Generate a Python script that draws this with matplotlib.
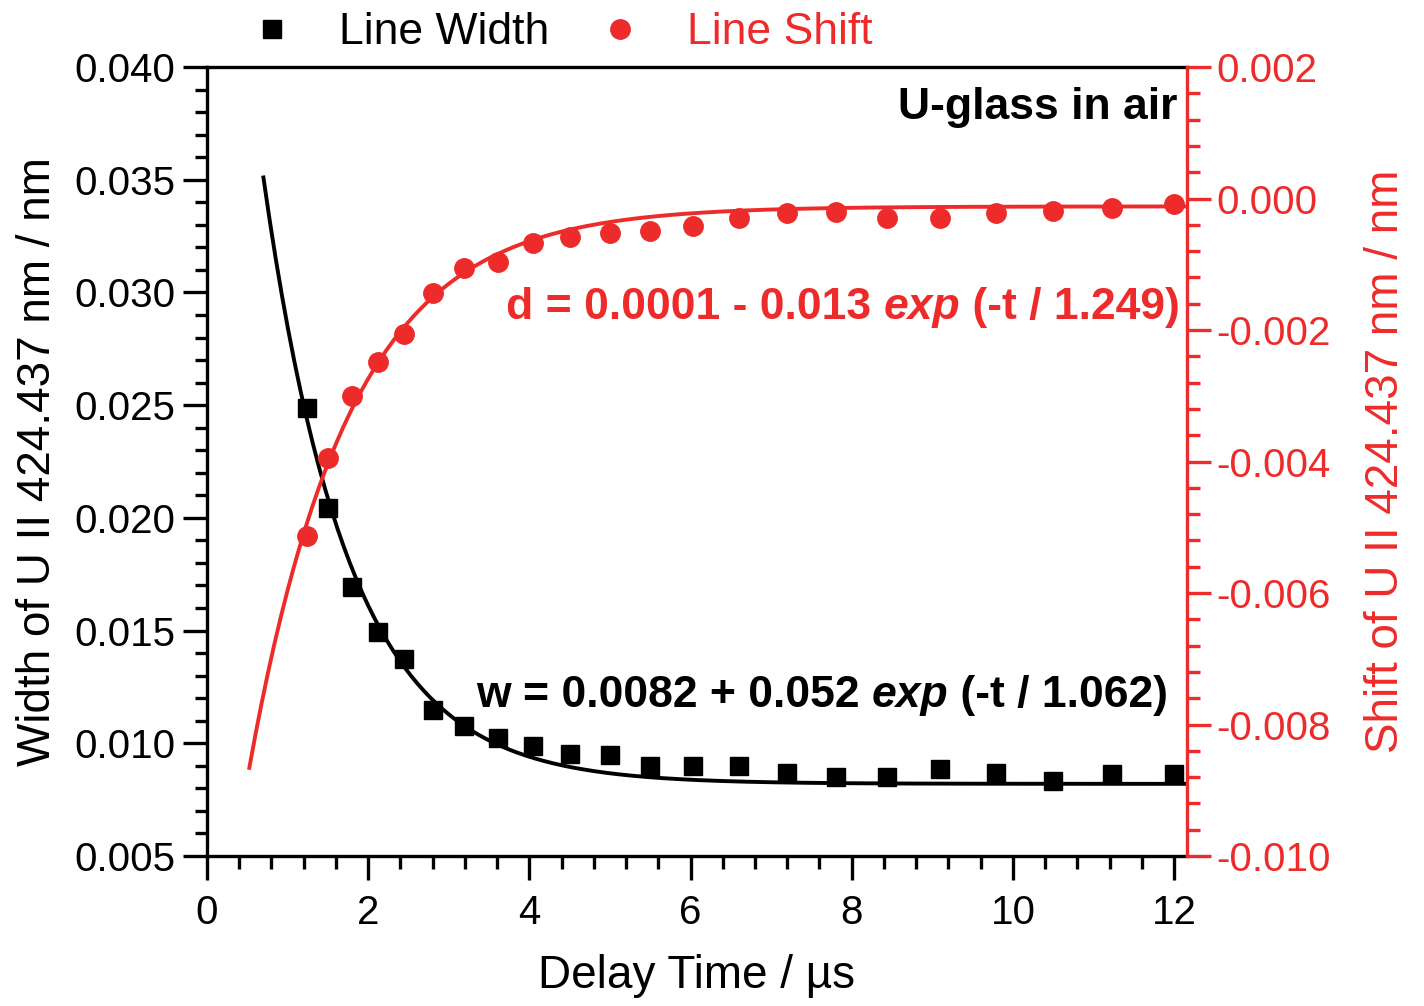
import matplotlib
matplotlib.use('Agg')
import matplotlib.pyplot as plt
import numpy as np
from matplotlib.lines import Line2D
from matplotlib.ticker import MultipleLocator, FuncFormatter
from matplotlib.offsetbox import TextArea, HPacker, AnchoredOffsetbox

plt.rcParams['font.family'] = ['Liberation Sans', 'DejaVu Sans']

# ---- data ----
delay_time = [1.24, 1.50, 1.80, 2.12, 2.44, 2.81, 3.19, 3.61, 4.05, 4.50, 5.00,
              5.50, 6.03, 6.60, 7.20, 7.80, 8.44, 9.09, 9.79, 10.50, 11.23, 12.00]
line_width = [0.02486, 0.02045, 0.01694, 0.01492, 0.01372, 0.01147, 0.01076,
              0.01022, 0.00988, 0.00953, 0.00946, 0.00899, 0.00899, 0.00899,
              0.00869, 0.00849, 0.00851, 0.00886, 0.00869, 0.00834, 0.00862, 0.00862]
line_shift = [-0.00514, -0.00394, -0.00300, -0.00249, -0.00206, -0.00143, -0.00105,
              -0.00096, -0.00067, -0.00059, -0.00053, -0.00049, -0.00042, -0.00029,
              -0.00022, -0.00021, -0.00030, -0.00029, -0.00022, -0.00019, -0.00014, -0.00008]

# fit model parameters (exponential fits shown in the chart)
w_offset, w_amp, w_tau, w_tstart = 0.0082, 0.052, 1.062, 0.70
d_offset, d_amp, d_tau, d_tstart = -0.00012, -0.013, 1.249, 0.525
t_end = 12.16

x_ticks = [0, 2, 4, 6, 8, 10, 12]
xlabel = 'Delay Time / µs'
ylabel_left = 'Width of U II 424.437 nm / nm'
ylabel_right = 'Shift of U II 424.437 nm / nm'
legend_labels = ['Line Width', 'Line Shift']

RED = '#EE2B2B'

W, H = 1424, 1006
fig = plt.figure(figsize=(W / 100, H / 100), dpi=100)
ax = fig.add_axes([207 / W, 1 - 856 / H, 980 / W, 789 / H])
ax2 = ax.twinx()

tw = np.linspace(w_tstart, t_end, 300)
td = np.linspace(d_tstart, t_end, 300)
ax.plot(tw, w_offset + w_amp * np.exp(-tw / w_tau), color='black', lw=2.8, zorder=2)
ax.plot(delay_time, line_width, 's', color='black', ms=13, zorder=3)
ax2.plot(td, d_offset + d_amp * np.exp(-td / d_tau), color=RED, lw=2.8, zorder=2)
ax2.plot(delay_time, line_shift, 'o', color=RED, ms=14, zorder=3)

ax.set_xlim(0, t_end)
ax.set_ylim(0.005, 0.040)
ax2.set_ylim(-0.010, 0.002)

ax.set_xticks(x_ticks)
ax.xaxis.set_minor_locator(MultipleLocator(0.4))
ax.yaxis.set_major_locator(MultipleLocator(0.005))
ax.yaxis.set_minor_locator(MultipleLocator(0.001))
ax2.yaxis.set_major_locator(MultipleLocator(0.002))
ax2.yaxis.set_minor_locator(MultipleLocator(0.0004))
fmt = FuncFormatter(lambda v, _: ('%.3f' % v).replace('-0.000', '0.000'))
ax.yaxis.set_major_formatter(fmt)
ax2.yaxis.set_major_formatter(fmt)

for s in ['left', 'bottom', 'top']:
    ax.spines[s].set_linewidth(2.4)
ax.spines['right'].set_visible(False)
for s in ['left', 'bottom', 'top']:
    ax2.spines[s].set_visible(False)
ax2.spines['right'].set_color(RED)
ax2.spines['right'].set_linewidth(2.4)

ax.tick_params(which='both', direction='out', width=2.4, top=False, right=False)
ax.tick_params(which='major', length=17, labelsize=29)
ax.tick_params(axis='y', which='major', pad=6)
ax.tick_params(axis='x', which='major', pad=10)
ax.tick_params(which='minor', length=9)
ax2.tick_params(axis='y', which='both', direction='out', width=2.4, colors=RED)
ax2.tick_params(axis='y', which='major', length=17, labelsize=29, pad=4)
ax2.tick_params(axis='y', which='minor', length=9)

ax.set_xlabel(xlabel, fontsize=33, labelpad=16)
ax.set_ylabel(ylabel_left, fontsize=33, labelpad=10)
ax2.set_ylabel(ylabel_right, fontsize=33, color=RED, labelpad=24)

ax.text(12.04, 0.0382, 'U-glass in air', ha='right', va='center',
        fontsize=32, fontweight='bold', zorder=5)


def equation(ax_, parts, color, x, y):
    boxes = []
    for txt, style in parts:
        boxes.append(TextArea(txt, textprops=dict(color=color, fontsize=32,
                                                  fontweight='bold', fontstyle=style)))
    pack = HPacker(children=boxes, align='baseline', pad=0, sep=0)
    anch = AnchoredOffsetbox(loc='center right', child=pack, pad=0, borderpad=0,
                             frameon=False, bbox_to_anchor=(x, y),
                             bbox_transform=ax_.transData)
    ax_.add_artist(anch)


equation(ax, [('w = 0.0082 + 0.052 ', 'normal'), ('exp', 'italic'),
              (' (-t / 1.062)', 'normal')], 'black', 11.93, 0.01214)
equation(ax, [('d = 0.0001 - 0.013 ', 'normal'), ('exp', 'italic'),
              (' (-t / 1.249)', 'normal')], RED, 12.07, 0.02935)

handles = [Line2D([], [], ls='none', marker='s', color='black', ms=13),
           Line2D([], [], ls='none', marker='o', color=RED, ms=14)]
fig.legend(handles, legend_labels, ncol=2, loc='center',
           bbox_to_anchor=(561 / W, 1 - 33 / H), frameon=False, fontsize=32,
           handlelength=1.0, handletextpad=1.0, columnspacing=1.1,
           labelcolor=['black', RED], borderpad=0)

fig.savefig('out.png', dpi=100)
